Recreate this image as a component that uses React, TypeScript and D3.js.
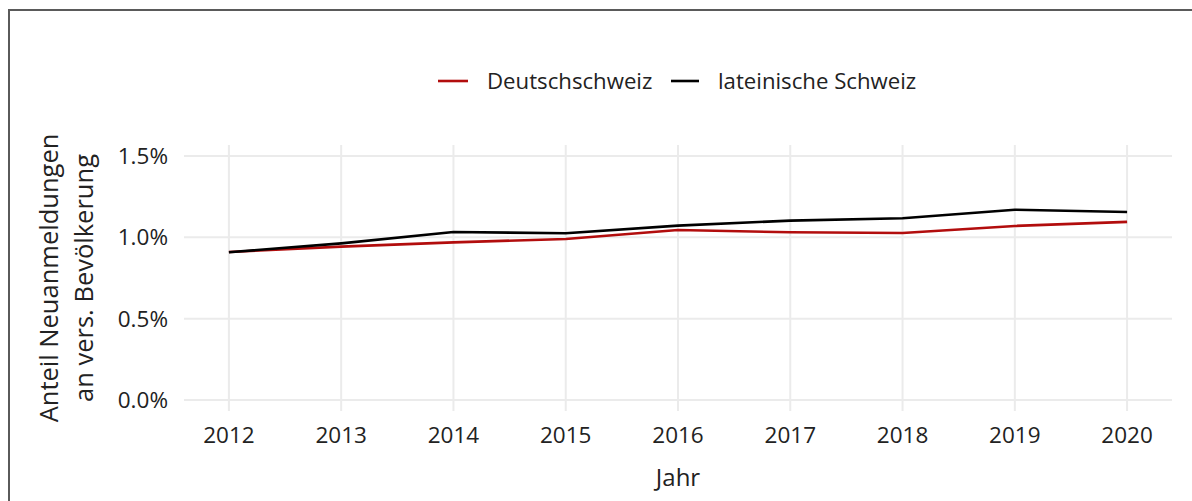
import React from "react";
import * as d3 from "d3";

const years = [2012, 2013, 2014, 2015, 2016, 2017, 2018, 2019, 2020];
const deutschschweiz = [0.91, 0.943, 0.969, 0.99, 1.045, 1.031, 1.027, 1.07, 1.095];
const lateinische = [0.908, 0.963, 1.033, 1.025, 1.072, 1.103, 1.117, 1.17, 1.156];
const yTicks = [0, 0.5, 1.0, 1.5];
const seriesNames = ["Deutschschweiz", "lateinische Schweiz"];
const seriesColors = ["#b20d0d", "#000000"];

const W = 1192;
const H = 501;
const FONT = "'Open Sans', sans-serif";
const TEXT = "#222222";

export default function App() {
  const panel = { left: 184, right: 1172, top: 145, bottom: 411 };
  const x = d3.scaleLinear().domain([2011.6, 2020.4]).range([panel.left, panel.right]);
  const y = d3.scaleLinear().domain([0, 1.5]).range([400, 156]);
  const line = d3
    .line<[number, number]>()
    .x((d) => x(d[0]))
    .y((d) => y(d[1]));
  const data = [deutschschweiz, lateinische];

  return (
    <svg
      width={W}
      height={H}
      style={{ position: "absolute", left: 0, top: 0, background: "#fff" }}
      fontFamily={FONT}
    >
      <rect x={0} y={0} width={W} height={H} fill="#fff" />
      <rect x={9} y={10} width={W + 20} height={H + 20} fill="none" stroke="#5a5a5a" strokeWidth={2} />
      {yTicks.map((t) => (
        <line key={"h" + t} x1={panel.left} x2={panel.right} y1={y(t)} y2={y(t)} stroke="#ebebeb" strokeWidth={2} />
      ))}
      {years.map((yr) => (
        <line key={"v" + yr} x1={x(yr)} x2={x(yr)} y1={panel.top} y2={panel.bottom} stroke="#ebebeb" strokeWidth={2} />
      ))}
      {data.map((vals, i) => (
        <path
          key={i}
          d={line(years.map((yr, j) => [yr, vals[j]] as [number, number])) || ""}
          fill="none"
          stroke={seriesColors[i]}
          strokeWidth={2.6}
          strokeLinejoin="round"
        />
      ))}
      {yTicks.map((t) => (
        <text key={"yl" + t} x={168} y={y(t)} dy="0.36em" textAnchor="end" fontSize={22.5} fill={TEXT}>
          {t.toFixed(1) + "%"}
        </text>
      ))}
      {years.map((yr) => (
        <text key={"xl" + yr} x={x(yr)} y={443} textAnchor="middle" fontSize={22.5} fill={TEXT}>
          {yr}
        </text>
      ))}
      <text x={(panel.left + panel.right) / 2} y={486} textAnchor="middle" fontSize={24} fill={TEXT}>
        Jahr
      </text>
      <g transform={`translate(0, ${(panel.top + panel.bottom) / 2}) rotate(-90)`}>
        <text x={0} y={58} textAnchor="middle" fontSize={25.5} fill={TEXT}>
          Anteil Neuanmeldungen
        </text>
        <text x={0} y={93} textAnchor="middle" fontSize={25.5} fill={TEXT}>
          an vers. Bevölkerung
        </text>
      </g>
      <line x1={438} x2={468} y1={81} y2={81} stroke={seriesColors[0]} strokeWidth={2.6} />
      <text x={487} y={89} fontSize={22.2} fill={TEXT}>{seriesNames[0]}</text>
      <line x1={671} x2={699} y1={81} y2={81} stroke={seriesColors[1]} strokeWidth={2.6} />
      <text x={718} y={89} fontSize={22.2} fill={TEXT}>{seriesNames[1]}</text>
    </svg>
  );
}
